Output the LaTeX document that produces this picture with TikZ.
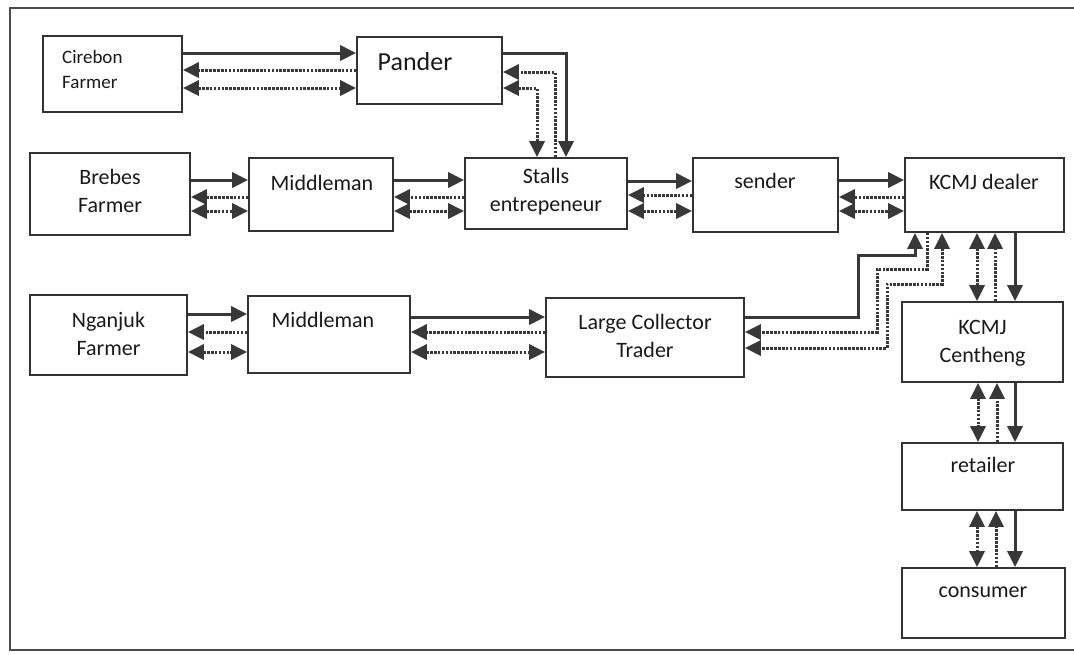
\documentclass[tikz,border=0pt]{standalone}
\usepackage{fontspec}
\setmainfont{Carlito}
\usetikzlibrary{arrows.meta}

\begin{document}
\begin{tikzpicture}[x=1pt, y=-1pt,
  box/.style={rectangle, draw=black!80, line width=1.7pt, inner sep=0pt},
  txt/.style={font=\fontsize{22}{28}\selectfont, text=black!90, align=center, inner sep=0pt},
  prod/.style={-{Triangle[length=16pt,width=15pt]}, line width=3pt, draw=black!78},
  cash/.style={-{Triangle[length=16pt,width=15pt]}, line width=3pt, draw=black!78,
               dash pattern=on 2.6pt off 1.3pt},
  info/.style={{Triangle[length=16pt,width=15pt]}-{Triangle[length=16pt,width=15pt]},
               line width=3pt, draw=black!78, dash pattern=on 2.6pt off 1.3pt}
]
\useasboundingbox (0,0) rectangle (1074,654);
% frame
\draw[black!70, line width=1.5pt] (1074,8) -- (10,8) -- (10,650) -- (1074,650);

% boxes
\node[box, minimum width=139, minimum height=76] (cirebon)   at (112.5,74)  {};
\node[box, minimum width=145, minimum height=67] (pander)    at (429.5,70.5) {};
\node[box, minimum width=160, minimum height=82] (brebes)    at (110,194)   {};
\node[box, minimum width=144, minimum height=73] (mid1)      at (321,194.5) {};
\node[box, minimum width=162, minimum height=71] (stalls)    at (546,193.5) {};
\node[box, minimum width=145, minimum height=74] (sender)    at (765.5,195) {};
\node[box, minimum width=159, minimum height=74] (dealer)    at (984.5,195) {};
\node[box, minimum width=157, minimum height=80] (nganjuk)   at (108.5,335) {};
\node[box, minimum width=162, minimum height=77] (mid2)      at (329,334.5) {};
\node[box, minimum width=198, minimum height=79] (collector) at (645,337.5) {};
\node[box, minimum width=161, minimum height=80] (centheng)  at (982.5,342) {};
\node[box, minimum width=161, minimum height=67] (retailer)  at (982.5,476.5) {};
\node[box, minimum width=163, minimum height=70] (consumer)  at (983.5,603) {};

% labels
\node[txt, anchor=west, align=left, font=\fontsize{19}{25}\selectfont] (cirebon-t) at (62,69.5) {Cirebon\\Farmer};
\node[txt, font=\fontsize{26}{30}\selectfont] (pander-t) at (415,62) {Pander};
\node[txt] (brebes-t)    at (110,191)   {Brebes\\Farmer};
\node[txt] (mid1-t)      at (322,183)   {Middleman};
\node[txt] (stalls-t)    at (546,191.5) {Stalls\\entrepeneur};
\node[txt] (sender-t)    at (765,181)   {sender};
\node[txt] (dealer-t)    at (984,182)   {KCMJ dealer};
\node[txt] (nganjuk-t)   at (108.5,334) {Nganjuk\\Farmer};
\node[txt] (mid2-t)      at (323,320)   {Middleman};
\node[txt] (collector-t) at (645,335.5) {Large Collector\\Trader};
\node[txt] (centheng-t)  at (982.5,343) {KCMJ\\Centheng};
\node[txt] (retailer-t)  at (983,465)   {retailer};
\node[txt] (consumer-t)  at (983,592)   {consumer};

% Cirebon -> Pander -> Stalls
\draw[prod] (cirebon.east |- 0,53) -- (pander.west |- 0,53);
\draw[cash] (pander.west |- 0,70) -- (cirebon.east |- 0,70);
\draw[info] (cirebon.east |- 0,88) -- (pander.west |- 0,88);
\draw[prod] (pander.east |- 0,53) -| (566,0 |- stalls.north);
\draw[cash] (555,0 |- stalls.north) |- (pander.east |- 0,72);
\draw[info] (pander.east |- 0,88) -| (537,0 |- stalls.north);

% Brebes row
\draw[prod] (brebes.east |- 0,180) -- (mid1.west |- 0,180);
\draw[cash] (mid1.west |- 0,197) -- (brebes.east |- 0,197);
\draw[info] (brebes.east |- 0,211) -- (mid1.west |- 0,211);
\draw[prod] (mid1.east |- 0,180) -- (stalls.west |- 0,180);
\draw[cash] (stalls.west |- 0,197) -- (mid1.east |- 0,197);
\draw[info] (mid1.east |- 0,211) -- (stalls.west |- 0,211);
\draw[prod] (stalls.east |- 0,181) -- (sender.west |- 0,181);
\draw[cash] (sender.west |- 0,195) -- (stalls.east |- 0,195);
\draw[info] (stalls.east |- 0,211) -- (sender.west |- 0,211);
\draw[prod] (sender.east |- 0,180) -- (dealer.west |- 0,180);
\draw[cash] (dealer.west |- 0,197) -- (sender.east |- 0,197);
\draw[info] (sender.east |- 0,211) -- (dealer.west |- 0,211);

% Nganjuk row
\draw[prod] (nganjuk.east |- 0,314) -- (mid2.west |- 0,314);
\draw[cash] (mid2.west |- 0,332) -- (nganjuk.east |- 0,332);
\draw[info] (nganjuk.east |- 0,352) -- (mid2.west |- 0,352);
\draw[prod] (mid2.east |- 0,317) -- (collector.west |- 0,317);
\draw[cash] (collector.west |- 0,332) -- (mid2.east |- 0,332);
\draw[info] (mid2.east |- 0,352) -- (collector.west |- 0,352);

% Large Collector <-> KCMJ dealer
\draw[prod] (collector.east |- 0,317) -| (858,255) -| (915,0 |- dealer.south);
\draw[cash] (927,0 |- dealer.south) |- (877,269) |- (collector.east |- 0,332);
\draw[info] (942,0 |- dealer.south) |- (887,284) |- (collector.east |- 0,348);

% down to consumer
\draw[info] (977,0 |- dealer.south) -- (977,0 |- centheng.north);
\draw[cash] (995,0 |- centheng.north) -- (995,0 |- dealer.south);
\draw[prod] (1015,0 |- dealer.south) -- (1015,0 |- centheng.north);
\draw[info] (978,0 |- centheng.south) -- (978,0 |- retailer.north);
\draw[cash] (997,0 |- retailer.north) -- (997,0 |- centheng.south);
\draw[prod] (1015,0 |- centheng.south) -- (1015,0 |- retailer.north);
\draw[info] (977,0 |- retailer.south) -- (977,0 |- consumer.north);
\draw[cash] (996,0 |- consumer.north) -- (996,0 |- retailer.south);
\draw[prod] (1015,0 |- retailer.south) -- (1015,0 |- consumer.north);
\end{tikzpicture}
\end{document}
